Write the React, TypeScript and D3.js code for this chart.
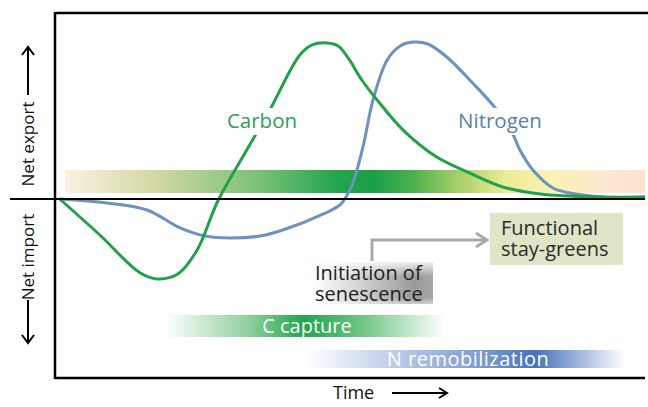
import React from "react";
import * as d3 from "d3";

// time points (0-100) and values (-100..100, export positive)
const carbonTime = [0.8, 7.6, 14.4, 17.3, 20.8, 24.1, 27.6, 32.5, 36.4, 41.5, 43.6, 46.1, 48.0, 49.8, 52.0, 54.6, 59.0, 64.7, 70.3, 75.9, 82.2, 92.4, 100];
const carbonValue = [0, -20, -41, -44.4, -41.7, -28.3, -1.1, 27.2, 49.4, 80, 85.6, 86.7, 85, 77.8, 66.1, 55, 38.3, 23.3, 14.4, 6.7, 2.8, 1.1, 1.1];

const nitrogenTime = [0.8, 8.8, 15.6, 21.2, 25.4, 29.7, 34.7, 38.6, 45.8, 48.3, 49.5, 50.5, 52.2, 53.9, 56.3, 58.5, 60.7, 63.2, 66.4, 70.8, 74.6, 77.5, 78.8, 81.0, 84.4, 87.3, 92.9, 100];
const nitrogenValue = [0, -2.2, -6.1, -16.1, -20.6, -21.7, -20.6, -17.2, -7.8, -3.3, 2.2, 8.9, 28.9, 55, 77.2, 85, 87.2, 86.1, 78.9, 64.4, 50.6, 36.7, 27.2, 16.1, 6.1, 3.3, 1.1, 1.1];

const FONT = "'Open Sans', 'Noto Sans', sans-serif";

const W = 648;
const H = 407;

const x = d3.scaleLinear().domain([0, 100]).range([55, 645]);
const y = d3.scaleLinear().domain([-100, 100]).range([379, 19]);

const line = d3
  .line<[number, number]>()
  .x((d) => x(d[0]))
  .y((d) => y(d[1]))
  .curve(d3.curveCatmullRom.alpha(0.5));

const carbonPts = carbonTime.map((t, i) => [t, carbonValue[i]] as [number, number]);
const nitrogenPts = nitrogenTime.map((t, i) => [t, nitrogenValue[i]] as [number, number]);

const App: React.FC = () => {
  const zero = y(0);
  return (
    <svg width={W} height={H} style={{ position: "absolute", left: 0, top: 0, background: "white" }}>
      <defs>
        <linearGradient id="band" x1="65" x2="645" y1="0" y2="0" gradientUnits="userSpaceOnUse">
          <stop offset="0" stopColor="#f8f2e2" />
          <stop offset="0.15" stopColor="#d6d9a4" />
          <stop offset="0.33" stopColor="#7cc27a" />
          <stop offset="0.47" stopColor="#22a54b" />
          <stop offset="0.53" stopColor="#1a9f47" />
          <stop offset="0.6" stopColor="#4cb04e" />
          <stop offset="0.68" stopColor="#a8d06a" />
          <stop offset="0.76" stopColor="#ecec94" />
          <stop offset="0.84" stopColor="#fbf2b4" />
          <stop offset="0.93" stopColor="#fce9d2" />
          <stop offset="1" stopColor="#fbe1d2" />
        </linearGradient>
        <linearGradient id="ccap" x1="165" x2="445" y1="0" y2="0" gradientUnits="userSpaceOnUse">
          <stop offset="0" stopColor="#ffffff" />
          <stop offset="0.3" stopColor="#8fcf9c" />
          <stop offset="0.5" stopColor="#1ea64d" />
          <stop offset="0.7" stopColor="#6dc584" />
          <stop offset="1" stopColor="#ffffff" />
        </linearGradient>
        <linearGradient id="nrem" x1="305" x2="625" y1="0" y2="0" gradientUnits="userSpaceOnUse">
          <stop offset="0" stopColor="#ffffff" />
          <stop offset="0.3" stopColor="#b9c9e6" />
          <stop offset="0.55" stopColor="#7d9bd0" />
          <stop offset="0.72" stopColor="#4673bd" />
          <stop offset="0.85" stopColor="#9db3dd" />
          <stop offset="1" stopColor="#ffffff" />
        </linearGradient>
        <linearGradient id="initH" x1="0" x2="1" y1="0" y2="0">
          <stop offset="0" stopColor="#ffffff" />
          <stop offset="0.35" stopColor="#d8d8d8" />
          <stop offset="0.85" stopColor="#9a9a9a" />
          <stop offset="1" stopColor="#a6a6a6" />
        </linearGradient>
        <linearGradient id="initV" x1="0" x2="0" y1="0" y2="1">
          <stop offset="0" stopColor="#ffffff" stopOpacity="0.85" />
          <stop offset="0.35" stopColor="#ffffff" stopOpacity="0" />
          <stop offset="0.85" stopColor="#ffffff" stopOpacity="0" />
          <stop offset="1" stopColor="#ffffff" stopOpacity="0.5" />
        </linearGradient>
      </defs>

      {/* export band */}
      <rect x={65} y={170} width={580} height={23} fill="url(#band)" />

      {/* curves */}
      <path d={line(nitrogenPts) ?? ""} fill="none" stroke="#6f91c0" strokeWidth={3} />
      <path d={line(carbonPts) ?? ""} fill="none" stroke="#23a04c" strokeWidth={3} />

      {/* curve labels with white gap */}
      <rect x={226} y={108} width={74} height={27} fill="white" />
      <text x={262} y={128} textAnchor="middle" fontFamily={FONT} fontSize={20.5} fill="#2f9e57">
        Carbon
      </text>
      <rect x={455} y={108} width={92} height={27} fill="white" />
      <text x={500} y={128} textAnchor="middle" fontFamily={FONT} fontSize={20.5} fill="#5b7fa8">
        Nitrogen
      </text>

      {/* frame */}
      <line x1={55} x2={648} y1={13} y2={13} stroke="#000" strokeWidth={2.5} />
      <line x1={55} x2={55} y1={12} y2={379} stroke="#000" strokeWidth={2.5} />
      <line x1={55} x2={645} y1={378} y2={378} stroke="#000" strokeWidth={2.5} />
      <line x1={10} x2={645} y1={zero} y2={zero} stroke="#000" strokeWidth={2} />

      {/* y labels */}
      <text
        transform="translate(34,144) rotate(-90)"
        textAnchor="middle"
        fontFamily={FONT}
        fontSize={17}
        fill="#111"
      >
        Net export
      </text>
      <path d="M28,95 L28,48 M22,55 L28,47 L34,55" fill="none" stroke="#000" strokeWidth={2} />
      <text
        transform="translate(34,257) rotate(-90)"
        textAnchor="middle"
        fontFamily={FONT}
        fontSize={17}
        fill="#111"
      >
        Net import
      </text>
      <path d="M28,300 L28,342 M22,335 L28,343 L34,335" fill="none" stroke="#000" strokeWidth={2} />

      {/* time label */}
      <text x={333} y={399} fontFamily={FONT} fontSize={18} fill="#111">
        Time
      </text>
      <path d="M392,393 L447,393 M439,388 L447,393 L439,398" fill="none" stroke="#000" strokeWidth={2} />

      {/* process bars */}
      <rect x={165} y={315} width={280} height={22} fill="url(#ccap)" />
      <text x={307} y={333} textAnchor="middle" fontFamily={FONT} fontSize={20} fill="#ffffff">
        C capture
      </text>
      <rect x={305} y={350} width={320} height={18} fill="url(#nrem)" />
      <text x={468} y={366} textAnchor="middle" fontFamily={FONT} fontSize={20} letterSpacing={0.5} fill="#ffffff">
        N remobilization
      </text>

      {/* initiation of senescence */}
      <rect x={312} y={262} width={121} height={42} fill="url(#initH)" />
      <rect x={312} y={262} width={121} height={42} fill="url(#initV)" />
      <text fontFamily={FONT} fontSize={20} fill="#1e1e1e">
        <tspan x={315} y={280}>Initiation of</tspan>
        <tspan x={315} y={301}>senescence</tspan>
      </text>
      <path d="M372,261 L372,240 L486,240" fill="none" stroke="#a9a9a9" strokeWidth={3} />
      <path d="M476,233 L487,240 L476,247" fill="none" stroke="#a9a9a9" strokeWidth={3} />

      {/* functional stay-greens */}
      <rect x={490} y={213} width={133} height={52} fill="#dfe5c6" />
      <text fontFamily={FONT} fontSize={20} fill="#2a2a2a">
        <tspan x={501} y={235}>Functional</tspan>
        <tspan x={501} y={256}>stay-greens</tspan>
      </text>
    </svg>
  );
};

export default App;
